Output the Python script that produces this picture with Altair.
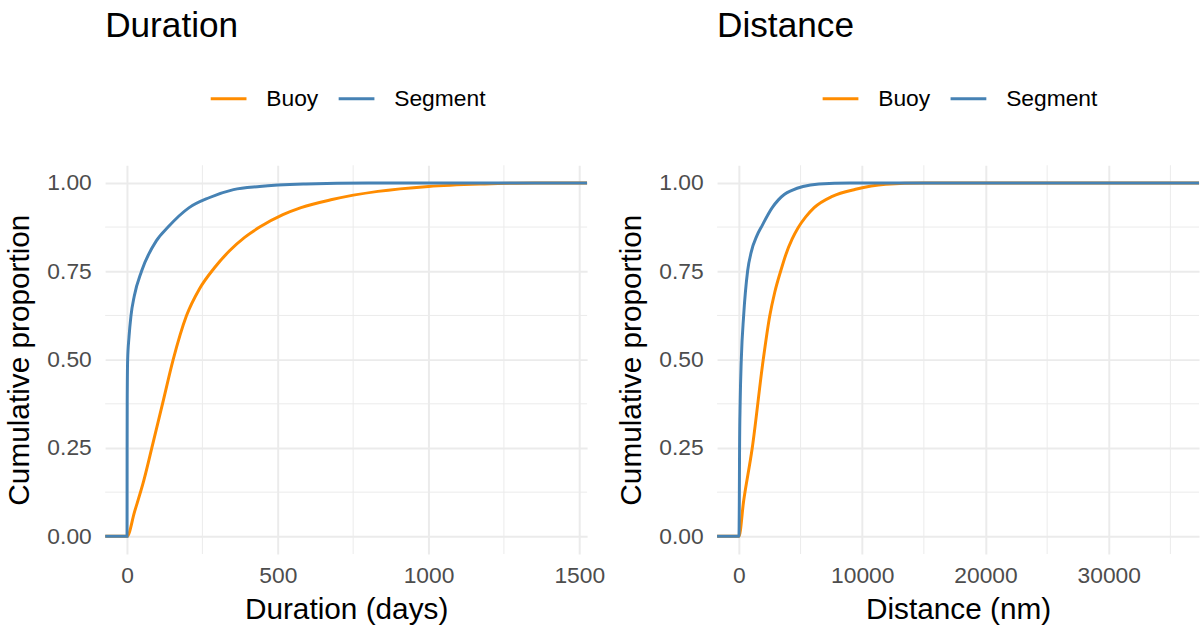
import altair as alt
import pandas as pd

FONT = "Liberation Sans"
SERIES = ["Buoy", "Segment"]
COLORS = ["#FF8C00", "#4682B4"]

# ---- Duration panel (days) ----
dur_domain = [-72.7, 1526]
dur_ticks = [0, 500, 1000, 1500]
dur_minor = [250, 750, 1250]
dur_buoy_x = [-72.7, 0, 25, 55, 85, 118, 153, 197, 240, 290, 340, 390, 440, 517, 577, 680, 832, 1000, 1186, 1351, 1526]
dur_buoy_y = [0, 0, 0.07, 0.156, 0.26, 0.376, 0.5, 0.624, 0.7, 0.76, 0.808, 0.846, 0.875, 0.91, 0.93, 0.953, 0.976, 0.99, 0.997, 1.0, 1.0]
dur_seg_x = [-72.7, 0, 0.2, 0.5, 2, 6.5, 13, 24, 48, 97, 136, 206, 272, 353, 440, 593, 800, 1526]
dur_seg_y = [0, 0, 0.25, 0.38, 0.5, 0.564, 0.624, 0.68, 0.75, 0.836, 0.875, 0.93, 0.958, 0.981, 0.99, 0.997, 1.0, 1.0]

# ---- Distance panel (nm) ----
dist_domain = [-1777, 37322]
dist_ticks = [0, 10000, 20000, 30000]
dist_minor = [5000, 15000, 25000, 35000]
dist_buoy_x = [-1777, 0, 380, 1075, 1970, 2500, 2900, 3380, 3800, 4300, 4800, 5400, 6100, 7570, 9460, 11900, 15000, 37322]
dist_buoy_y = [0, 0, 0.1, 0.249, 0.5, 0.624, 0.69, 0.75, 0.797, 0.84, 0.873, 0.903, 0.93, 0.962, 0.982, 0.996, 1.0, 1.0]
dist_seg_x = [-1777, 0, 30, 50, 100, 190, 380, 700, 1000, 1450, 1890, 2700, 3200, 3700, 4300, 5200, 6490, 9000, 37322]
dist_seg_y = [0, 0, 0.1, 0.249, 0.38, 0.5, 0.624, 0.75, 0.805, 0.85, 0.88, 0.93, 0.952, 0.968, 0.979, 0.99, 0.997, 1.0, 1.0]

y_ticks = [0, 0.25, 0.5, 0.75, 1.0]
y_minor = [0.125, 0.375, 0.625, 0.875]
y_domain = [-0.05, 1.05]

W, H = 486, 392


def panel(title, xtitle, xdomain, xticks, xminor, buoy_x, buoy_y, seg_x, seg_y, fmt):
    xscale = alt.Scale(domain=xdomain, nice=False, zero=False)
    yscale = alt.Scale(domain=y_domain, nice=False, zero=False)
    xaxis = alt.Axis(values=xticks, format=fmt, title=xtitle, labelFlush=False)
    yaxis = alt.Axis(values=y_ticks, format=".2f", title="Cumulative proportion")

    vminor = alt.Chart(pd.DataFrame({"v": xminor})).mark_rule(
        color="#EBEBEB", strokeWidth=1
    ).encode(x=alt.X("v:Q", scale=xscale, axis=xaxis))
    hminor = alt.Chart(pd.DataFrame({"v": y_minor})).mark_rule(
        color="#EBEBEB", strokeWidth=1
    ).encode(y=alt.Y("v:Q", scale=yscale, axis=yaxis))

    color = alt.Color(
        "series:N",
        scale=alt.Scale(domain=SERIES, range=COLORS),
        legend=alt.Legend(
            title=None,
            orient="none",
            legendX=104.5,
            legendY=-87,
            direction="horizontal",
            symbolType="stroke",
            symbolSize=1300,
            symbolStrokeWidth=3,
            labelFontSize=23,
            labelFont=FONT,
            labelColor="black",
            labelOffset=18,
            columnPadding=13,
            padding=0,
        ),
    )

    def line(xs, ys, name):
        df = pd.DataFrame({"x": xs, "y": ys, "series": name})
        return alt.Chart(df).mark_line(
            strokeWidth=3, clip=True, interpolate="monotone"
        ).encode(
            x=alt.X("x:Q", scale=xscale, axis=xaxis),
            y=alt.Y("y:Q", scale=yscale, axis=yaxis),
            color=color,
            order=alt.Order("x:Q"),
        )

    return alt.layer(
        vminor, hminor, line(buoy_x, buoy_y, "Buoy"), line(seg_x, seg_y, "Segment")
    ).properties(
        width=W,
        height=H,
        title=alt.TitleParams(
            text=title,
            anchor="start",
            frame="group",
            fontSize=35.5,
            font=FONT,
            fontWeight="normal",
            color="black",
            offset=35,
        ),
    )


left = panel("Duration", "Duration (days)", dur_domain, dur_ticks, dur_minor,
             dur_buoy_x, dur_buoy_y, dur_seg_x, dur_seg_y, "d")
right = panel("Distance", "Distance (nm)", dist_domain, dist_ticks, dist_minor,
              dist_buoy_x, dist_buoy_y, dist_seg_x, dist_seg_y, "d")

chart = alt.hconcat(left, right, spacing=12).resolve_scale(
    color="independent", x="independent", y="independent"
).properties(
    padding={"left": 5, "top": 6, "right": 4, "bottom": 2}
).configure_view(
    strokeWidth=0
).configure_axis(
    domain=False,
    ticks=False,
    grid=True,
    gridColor="#EBEBEB",
    gridWidth=2,
    labelFont=FONT,
    labelFontSize=23,
    labelColor="#4D4D4D",
    titleFont=FONT,
    titleFontSize=30,
    titleFontWeight="normal",
    titleColor="black",
).configure_axisX(
    labelPadding=11,
    titlePadding=7,
).configure_axisY(
    labelPadding=14,
    titlePadding=12,
)

chart.save("out.html", embed_options={"renderer": "svg", "actions": False})
